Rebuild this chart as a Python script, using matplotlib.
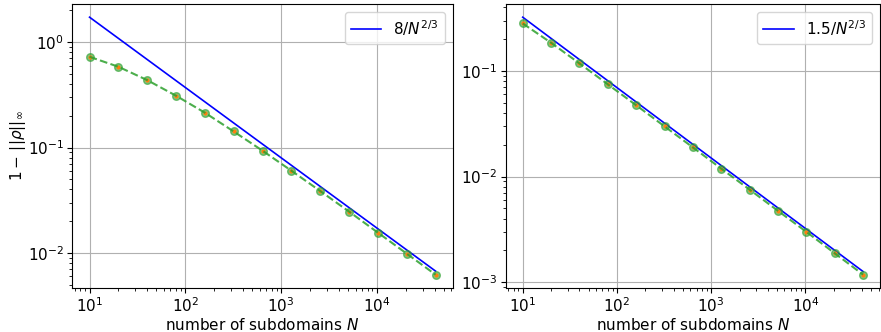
import matplotlib
matplotlib.use("Agg")
import matplotlib.pyplot as plt
import numpy as np

# number of subdomains
N = [10, 20, 40, 80, 160, 320, 640, 1280, 2560, 5120, 10240, 20480, 40960]

# 1 - ||rho||_inf
rho_left = [0.726, 0.584, 0.436, 0.310, 0.214, 0.142, 0.0933, 0.0603,
            0.0387, 0.0247, 0.0156, 0.00986, 0.00623]
rho_right = [0.282, 0.185, 0.118, 0.0748, 0.0474, 0.0299, 0.0189, 0.0119,
             0.00753, 0.00474, 0.00300, 0.00188, 0.00118]

c_left = 8
c_right = 1.5

plt.rcParams['font.size'] = 11
plt.rcParams['xtick.major.pad'] = 2.5
plt.rcParams['ytick.major.pad'] = 2.5
plt.rcParams['axes.labelpad'] = 1.5

fig = plt.figure(figsize=(8.81, 3.32), dpi=100)

Nn = np.array(N, dtype=float)


def draw(ax, rho, c, lab):
    ax.loglog(N, c / Nn**(2/3), 'b-', lw=1.2, label=lab)
    ax.loglog(N, rho, 'o', color='C2', ms=5.5, alpha=0.6)
    ax.loglog(N, rho, '.', color='C1', ms=4)
    ax.loglog(N, rho, '--', color='C2', lw=1.5, alpha=0.85)
    ax.grid(True)
    ax.set_xlabel(r'number of subdomains $N$')
    ax.legend(loc='upper right')


ax1 = fig.add_axes([0.082, 0.134, 0.432, 0.853])
draw(ax1, rho_left, c_left, r'$8/N^{2/3}$')
ax1.set_ylabel(r'$1 - \,||\rho||_\infty$', labelpad=0)

ax2 = fig.add_axes([0.574, 0.134, 0.425, 0.853])
draw(ax2, rho_right, c_right, r'$1.5/N^{2/3}$')

plt.savefig("out.png", dpi=100)
